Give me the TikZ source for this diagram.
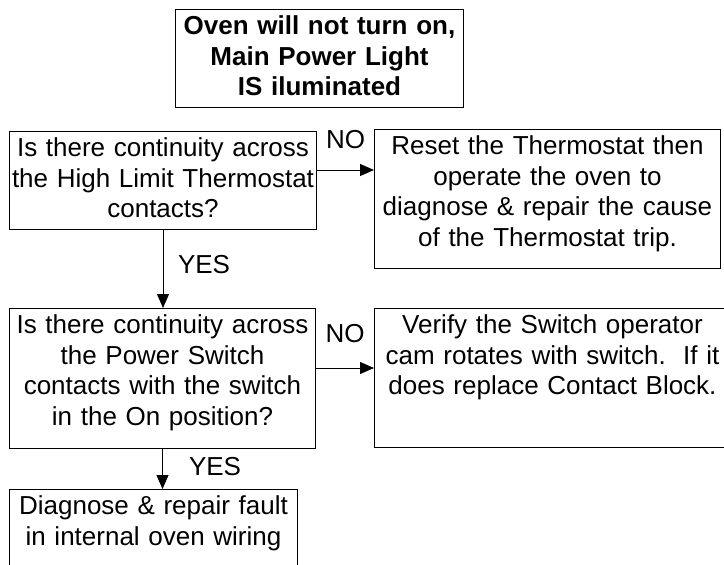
\documentclass[tikz,border=0pt]{standalone}
\usepackage{fontspec}
\setmainfont{Liberation Sans}
\usepackage{tikz}
\usetikzlibrary{arrows.meta,positioning}
\newcommand\boxfont{\fontsize{26pt}{30.5pt}\selectfont}

\begin{document}
\begin{tikzpicture}[
  x=1pt, y=-1pt,
  box/.style={draw, line width=1pt, inner sep=0pt, align=center, anchor=north west, text height=25pt, font=\boxfont},
  answer/.style={inner sep=0pt, font=\boxfont},
  flow/.style={line width=1pt, -{Triangle[length=14pt, width=12pt]}}
]
  \useasboundingbox (0,0) rectangle (724,565);
  \node[box, text width=288pt, text depth=73pt, font=\boxfont\bfseries] (start) at (175,9) {Oven will not turn on,\\Main Power Light\\IS iluminated};
  \node[box, text width=307pt, text depth=73pt] (q1) at (9,131) {Is there continuity across\\the High Limit Thermostat\\contacts?};
  \node[box, text width=346pt, text depth=114pt] (r1) [right=57pt of q1.north east, anchor=north west, yshift=2pt] {Reset the Thermostat then\\operate the oven to\\diagnose \& repair the cause\\of the Thermostat trip.};
  \node[box, text width=306pt, text depth=115pt] (q2) [below=78pt of q1.south west, anchor=north west] {Is there continuity across\\the Power Switch\\contacts with the switch\\in the On position?};
  \node[box, text width=356pt, text depth=114pt] (r2) [right=58pt of q2.north east, anchor=north west] {Verify the Switch operator\\cam rotates with switch.\ \ If it\\does replace Contact Block.};
  \node[box, text width=288pt, text depth=75pt] (q3) [below=40pt of q2.south west, anchor=north west] {Diagnose \& repair fault\\in internal oven wiring};
  \foreach \from/\to/\gap in {q1/r1/21pt, q2/r2/25pt}
    \draw[flow] ([yshift=10.5pt]\from.east) -- ([yshift=10.5pt]\from.east -| \to.west)
      node[answer, midway, above=\gap] {NO};
  \foreach \from/\to/\gap in {q1/q2/14.5pt, q2/q3/26pt}
    \draw[flow] (\from.south) -- (\from.south |- \to.north)
      node[answer, pos=0.44, right=\gap] {YES};
\end{tikzpicture}
\end{document}
